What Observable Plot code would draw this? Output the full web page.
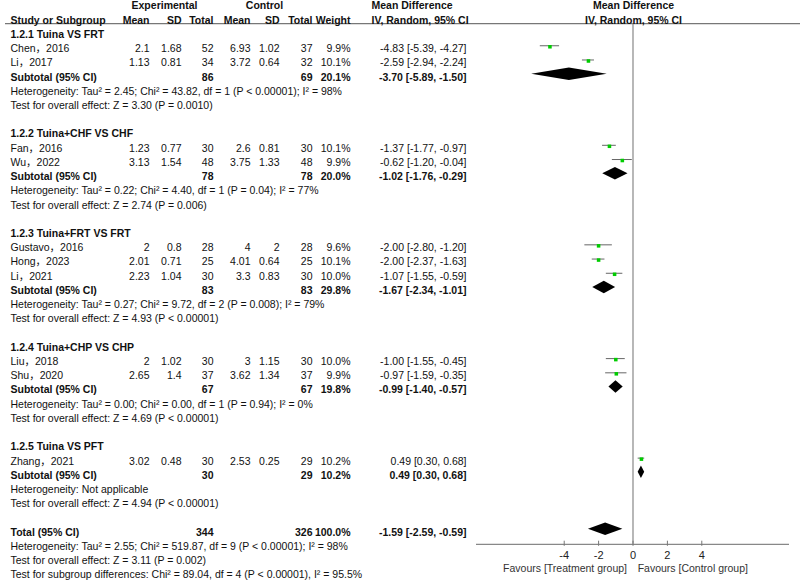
<!DOCTYPE html>
<html><head><meta charset="utf-8">
<script src="https://cdn.jsdelivr.net/npm/d3@7"></script>
<script src="https://cdn.jsdelivr.net/npm/@observablehq/plot@0.6"></script>
<style>html,body{margin:0;padding:0;background:#fff;overflow:hidden}</style>
</head><body><div id="chart"></div>
<script>
// ---------- data ----------
const groupNames = ["1.2.1 Tuina VS FRT", "1.2.2 Tuina+CHF VS CHF", "1.2.3 Tuina+FRT VS FRT", "1.2.4 Tuina+CHP VS CHP", "1.2.5 Tuina VS PFT"];
const studyNames = ["Chen，2016", "Li，2017", "Fan，2016", "Wu，2022", "Gustavo，2016", "Hong，2023", "Li，2021", "Liu，2018", "Shu，2020", "Zhang，2021"];
const studyGroup = [0, 0, 1, 1, 2, 2, 2, 3, 3, 4];
const expMean = [2.1, 1.13, 1.23, 3.13, 2, 2.01, 2.23, 2, 2.65, 3.02];
const expSD = [1.68, 0.81, 0.77, 1.54, 0.8, 0.71, 1.04, 1.02, 1.4, 0.48];
const expN = [52, 34, 30, 48, 28, 25, 30, 30, 37, 30];
const ctlMean = [6.93, 3.72, 2.6, 3.75, 4, 4.01, 3.3, 3, 3.62, 2.53];
const ctlSD = [1.02, 0.64, 0.81, 1.33, 2, 0.64, 0.83, 1.15, 1.34, 0.25];
const ctlN = [37, 32, 30, 48, 28, 25, 30, 30, 37, 29];
const weight = [9.9, 10.1, 10.1, 9.9, 9.6, 10.1, 10.0, 10.0, 9.9, 10.2];
const md = [-4.83, -2.59, -1.37, -0.62, -2.00, -2.00, -1.07, -1.00, -0.97, 0.49];
const mdLo = [-5.39, -2.94, -1.77, -1.20, -2.80, -2.37, -1.55, -1.55, -1.59, 0.30];
const mdHi = [-4.27, -2.24, -0.97, -0.04, -1.20, -1.63, -0.59, -0.45, -0.35, 0.68];

const subExpN = [86, 78, 83, 67, 30];
const subCtlN = [69, 78, 83, 67, 29];
const subWeight = [20.1, 20.0, 29.8, 19.8, 10.2];
const subMd = [-3.70, -1.02, -1.67, -0.99, 0.49];
const subLo = [-5.89, -1.76, -2.34, -1.40, 0.30];
const subHi = [-1.50, -0.29, -1.01, -0.57, 0.68];
const subHet = [
  "Heterogeneity: Tau² = 2.45; Chi² = 43.82, df = 1 (P < 0.00001); I² = 98%",
  "Heterogeneity: Tau² = 0.22; Chi² = 4.40, df = 1 (P = 0.04); I² = 77%",
  "Heterogeneity: Tau² = 0.27; Chi² = 9.72, df = 2 (P = 0.008); I² = 79%",
  "Heterogeneity: Tau² = 0.00; Chi² = 0.00, df = 1 (P = 0.94); I² = 0%",
  "Heterogeneity: Not applicable"];
const subTest = [
  "Test for overall effect: Z = 3.30 (P = 0.0010)",
  "Test for overall effect: Z = 2.74 (P = 0.006)",
  "Test for overall effect: Z = 4.93 (P < 0.00001)",
  "Test for overall effect: Z = 4.69 (P < 0.00001)",
  "Test for overall effect: Z = 4.94 (P < 0.00001)"];

const totalExpN = 344, totalCtlN = 326, totalWeight = 100.0;
const totalMd = -1.59, totalLo = -2.59, totalHi = -0.59;
const totalNotes = [
  "Heterogeneity: Tau² = 2.55; Chi² = 519.87, df = 9 (P < 0.00001); I² = 98%",
  "Test for overall effect: Z = 3.11 (P = 0.002)",
  "Test for subgroup differences: Chi² = 89.04, df = 4 (P < 0.00001), I² = 95.5%"];
const xTicks = [-4, -2, 0, 2, 4];
const favoursLeft = "Favours [Treatment group]";
const favoursRight = "Favours [Control group]";

// ---------- layout ----------
const W = 800, H = 580, ML = 5;
const xDomain = [-9.1, 9.1];
const headerRuleRow = -0.77, axisRow = 35.85, diamondHalf = 0.44;
const cols = {
  label: {x: 10, anchor: "start"},
  em: {x: 149, anchor: "end"}, esd: {x: 181, anchor: "end"}, en: {x: 213, anchor: "end"},
  cm: {x: 250, anchor: "end"}, csd: {x: 279, anchor: "end"}, cn: {x: 312, anchor: "end"},
  w: {x: 350, anchor: "end"}, ci: {x: 466, anchor: "end"},
  hExp: {x: 164, anchor: "middle"}, hCtl: {x: 264, anchor: "middle"},
  hMD: {x: 371, anchor: "start"}, hForest: {x: 633, anchor: "middle"}
};

// ---------- build rows ----------
const fmtCI = (m, l, h) => `${m.toFixed(2)} [${l.toFixed(2)}, ${h.toFixed(2)}]`;
const cells = [];
const add = (row, col, text, bold = false) => cells.push({row, col, text: String(text), bold});
add(-2, "hExp", "Experimental", true); add(-2, "hCtl", "Control", true);
add(-2, "hMD", "Mean Difference", true); add(-2, "hForest", "Mean Difference", true);
[["label", "Study or Subgroup"], ["em", "Mean"], ["esd", "SD"], ["en", "Total"], ["cm", "Mean"],
 ["csd", "SD"], ["cn", "Total"], ["w", "Weight"], ["hMD", "IV, Random, 95% CI"], ["hForest", "IV, Random, 95% CI"]]
  .forEach(([c, t]) => add(-1, c, t, true));

const studyRows = [], summaries = [];
let r = 0;
groupNames.forEach((g, gi) => {
  add(r++, "label", g, true);
  studyNames.forEach((s, i) => {
    if (studyGroup[i] !== gi) return;
    add(r, "label", s); add(r, "em", expMean[i]); add(r, "esd", expSD[i]); add(r, "en", expN[i]);
    add(r, "cm", ctlMean[i]); add(r, "csd", ctlSD[i]); add(r, "cn", ctlN[i]);
    add(r, "w", weight[i].toFixed(1) + "%"); add(r, "ci", fmtCI(md[i], mdLo[i], mdHi[i]));
    studyRows.push({row: r, md: md[i], lo: mdLo[i], hi: mdHi[i]});
    r++;
  });
  add(r, "label", "Subtotal (95% CI)", true); add(r, "en", subExpN[gi], true); add(r, "cn", subCtlN[gi], true);
  add(r, "w", subWeight[gi].toFixed(1) + "%", true); add(r, "ci", fmtCI(subMd[gi], subLo[gi], subHi[gi]), true);
  summaries.push({id: "g" + gi, row: r, md: subMd[gi], lo: subLo[gi], hi: subHi[gi]});
  r++;
  add(r++, "label", subHet[gi]);
  add(r++, "label", subTest[gi]);
  r++;
});
add(r, "label", "Total (95% CI)", true); add(r, "en", totalExpN, true); add(r, "cn", totalCtlN, true);
add(r, "w", totalWeight.toFixed(1) + "%", true); add(r, "ci", fmtCI(totalMd, totalLo, totalHi), true);
summaries.push({id: "total", row: r, md: totalMd, lo: totalLo, hi: totalHi});
r++;
totalNotes.forEach(t => add(r++, "label", t));

const diamondPts = summaries.flatMap(s => [
  {id: s.id, x: s.lo, y1: s.row, y2: s.row},
  {id: s.id, x: s.md, y1: s.row - diamondHalf, y2: s.row + diamondHalf},
  {id: s.id, x: s.hi, y1: s.row, y2: s.row}
]);

// ---------- marks ----------
const textMarks = [];
for (const [key, c] of Object.entries(cols)) {
  for (const bold of [false, true]) {
    const d = cells.filter(e => e.col === key && e.bold === bold);
    if (!d.length) continue;
    textMarks.push(Plot.text(d, {
      y: "row", text: "text", frameAnchor: "left", dx: c.x - ML,
      textAnchor: c.anchor, fontWeight: bold ? "bold" : "normal", fill: "#111", fontSize: 10.5
    }));
  }
}

const chart = Plot.plot({
  width: W, height: H,
  marginLeft: ML, marginRight: 0, marginTop: 0, marginBottom: 0,
  style: {fontFamily: "'Liberation Sans', Arial, 'Noto Sans CJK SC', sans-serif", fontSize: "10.5px", background: "#fff"},
  x: {domain: xDomain, range: [476, 789], axis: null},
  y: {domain: [-2, 38], range: [5.6, 574.4], axis: null},
  marks: [
    Plot.ruleY([headerRuleRow], {stroke: "#777", strokeWidth: 1.2}),
    Plot.ruleX([0], {y1: headerRuleRow, y2: axisRow, stroke: "#888", strokeWidth: 1.2}),
    Plot.ruleY([axisRow], {x1: xDomain[0], x2: xDomain[1], stroke: "#888", strokeWidth: 1.2}),
    Plot.ruleX(xTicks, {y1: axisRow - 0.22, y2: axisRow + 0.14, stroke: "#777"}),
    Plot.text(xTicks, {x: d => d, y: axisRow + 0.78, text: d => String(d), fill: "#222", fontSize: 11}),
    Plot.text([favoursLeft], {x: -0.35, y: axisRow + 1.69, text: d => d, textAnchor: "end", fill: "#333", fontSize: 10.5}),
    Plot.text([favoursRight], {x: 0.27, y: axisRow + 1.69, text: d => d, textAnchor: "start", fill: "#333", fontSize: 10.5}),
    Plot.ruleY(studyRows, {y: "row", x1: "lo", x2: "hi", dy: -3, stroke: "#666", strokeWidth: 1}),
    Plot.dot(studyRows, {x: "md", y: "row", dy: -2, symbol: "square", r: 2, fill: "#00cc00"}),
    Plot.areaY(diamondPts, {x: "x", y1: "y1", y2: "y2", z: "id", fill: "#000", dy: -3}),
    ...textMarks
  ]
});
document.getElementById("chart").appendChild(chart);
</script>
</body></html>
